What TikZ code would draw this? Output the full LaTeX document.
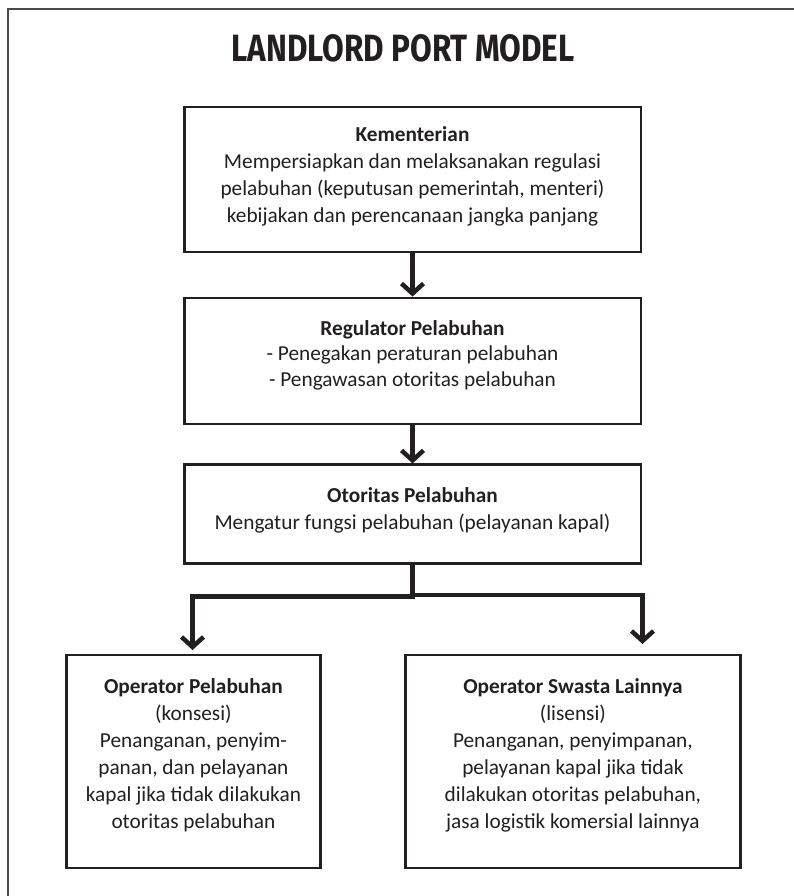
\documentclass[tikz,border=0pt]{standalone}
\usepackage{graphicx}
\usepackage{fontspec}
\setmainfont{Carlito}
\newfontfamily\titlefont{Fira Sans}
\usetikzlibrary{arrows.meta}
\definecolor{ink}{HTML}{231F20}
\definecolor{framegray}{HTML}{4A4A4A}
\begin{document}
\begin{tikzpicture}[x=1pt,y=-1pt,
  box/.style={draw=ink, line width=2.5pt, inner sep=0pt},
  conn/.style={draw=ink, line width=4.5pt},
  tipped/.style={conn, -{Straight Barb[length=10pt,width=22pt]}},
  txt/.style={text=ink, align=center, font=\fontsize{21.3}{27}\selectfont},
  frame/.style={draw=framegray, line width=2pt}]
\useasboundingbox (0,0) rectangle (794,896);

% page frame (top and left edges)
\coordinate (fa) at (8,896);
\coordinate (fb) at (8,9);
\coordinate (fc) at (794,9);
\draw[frame] (fa) -- (fb) -- (fc);

% heading
\node[text=ink, inner sep=0pt] (title) at (403,48.3)
  {\resizebox{343pt}{27pt}{\titlefont\bfseries LANDLORD PORT MODEL}};

% boxes
\node[box, minimum width=456.5pt, minimum height=144.5pt] (b1) at (412.5,179.5) {};
\node[box, minimum width=456.5pt, minimum height=126pt] (b2) at (412.5,360.8) {};
\node[box, minimum width=456.5pt, minimum height=99pt] (b3) at (412.5,514.2) {};
\node[box, minimum width=254pt, minimum height=213pt] (b4) at (193.4,761.7) {};
\node[box, minimum width=335pt, minimum height=213pt] (b5) at (572.9,761.7) {};

% box texts
\node[txt] (t1) at (412.5,176) {\textbf{Kementerian}\\
  Mempersiapkan dan melaksanakan regulasi\\
  pelabuhan (keputusan pemerintah, menteri)\\
  kebijakan dan perencanaan jangka panjang};
\node[txt, font=\fontsize{21.3}{25.5}\selectfont] (t2) at (412.5,355) {\textbf{Regulator Pelabuhan}\\
  - Penegakan peraturan pelabuhan\\
  - Pengawasan otoritas pelabuhan};
\node[txt] (t3) at (412.5,510) {\textbf{Otoritas Pelabuhan}\\
  Mengatur fungsi pelabuhan (pelayanan kapal)};
\node[txt] (t4) at (193.4,755) {\textbf{Operator Pelabuhan}\\
  (konsesi)\\
  Penanganan, penyim-\\
  panan, dan pelayanan\\
  kapal jika tidak dilakukan\\
  otoritas pelabuhan};
\node[txt] (t5) at (572.9,755) {\textbf{Operator Swasta Lainnya}\\
  (lisensi)\\
  Penanganan, penyimpanan,\\
  pelayanan kapal jika tidak\\
  dilakukan otoritas pelabuhan,\\
  jasa logistik komersial lainnya};

% connectors
\draw[tipped] (b1.south) -- (b2.north);
\draw[tipped] (b2.south) -- (b3.north);

\coordinate (jl) at (412.5,596.5);
\coordinate (jr) at (412.5,595);
\coordinate (el) at (192.5,650);
\coordinate (er) at (642.5,644);
\draw[tipped] (b3.south) -- (jl) -| (el);
\draw[tipped] (b3.south) -- (jr) -| (er);
\end{tikzpicture}
\end{document}
